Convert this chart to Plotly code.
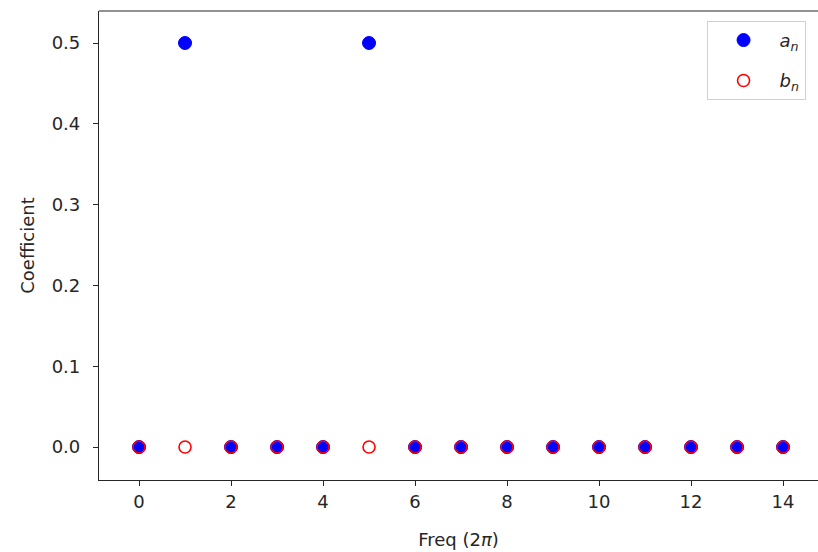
import plotly.graph_objects as go

freq = list(range(15))
a_n = [0, 0.5, 0, 0, 0, 0.5, 0, 0, 0, 0, 0, 0, 0, 0, 0]
b_n = [0] * 15
y_ticks = [0.0, 0.1, 0.2, 0.3, 0.4, 0.5]
x_ticks = [0, 2, 4, 6, 8, 10, 12, 14]

font = dict(family="DejaVu Sans", size=18, color="#262626")

fig = go.Figure()
fig.add_trace(go.Scatter(
    x=freq, y=a_n, mode="markers", name="<i>a<sub>n</sub></i>",
    legendgroup="a",
    marker=dict(symbol="circle", size=13, color="#0000ff",
                line=dict(color="#0000ff", width=1)),
))
fig.add_trace(go.Scatter(
    x=freq, y=b_n, mode="markers", name="<i>b<sub>n</sub></i>",
    legendgroup="b",
    marker=dict(symbol="circle-open", size=12, color="#ff0000",
                line=dict(color="#ff0000", width=1.6)),
))

fig.update_layout(
    width=818, height=552,
    margin=dict(l=99, r=0, t=11, b=72),
    paper_bgcolor="white", plot_bgcolor="white",
    font=font,
    showlegend=True,
    legend=dict(x=0.845, y=0.979, xanchor="left", yanchor="top",
                bgcolor="white", bordercolor="#d0d0d0", borderwidth=1,
                font=dict(family="DejaVu Sans", size=18, color="#262626"),
                tracegroupgap=14, itemwidth=62),
    xaxis=dict(range=[-0.87, 14.76], tickvals=x_ticks, ticktext=[str(v) for v in x_ticks],
               showgrid=False, zeroline=False, showline=True, linecolor="#262626",
               linewidth=1.2, ticks="outside", ticklen=5, tickcolor="#262626",
               title=dict(text="Freq (2<i>π</i>)", standoff=22, font=font)),
    yaxis=dict(range=[-0.0408, 0.5396], tickvals=y_ticks,
               ticktext=[f"{v:.1f}" for v in y_ticks],
               showgrid=False, zeroline=False, showline=True, linecolor="#262626",
               linewidth=1.2, ticks="outside", ticklen=5, tickcolor="#262626",
               ticklabelstandoff=9,
               title=dict(text="Coefficient", standoff=12, font=font)),
    shapes=[dict(type="line", xref="paper", yref="paper", x0=0, x1=1, y0=1, y1=1,
                 line=dict(color="#262626", width=1.2))],
)

fig.write_html("out.html", config={"displayModeBar": False},
               post_script="document.body.style.margin='0';document.body.style.overflow='hidden';")
